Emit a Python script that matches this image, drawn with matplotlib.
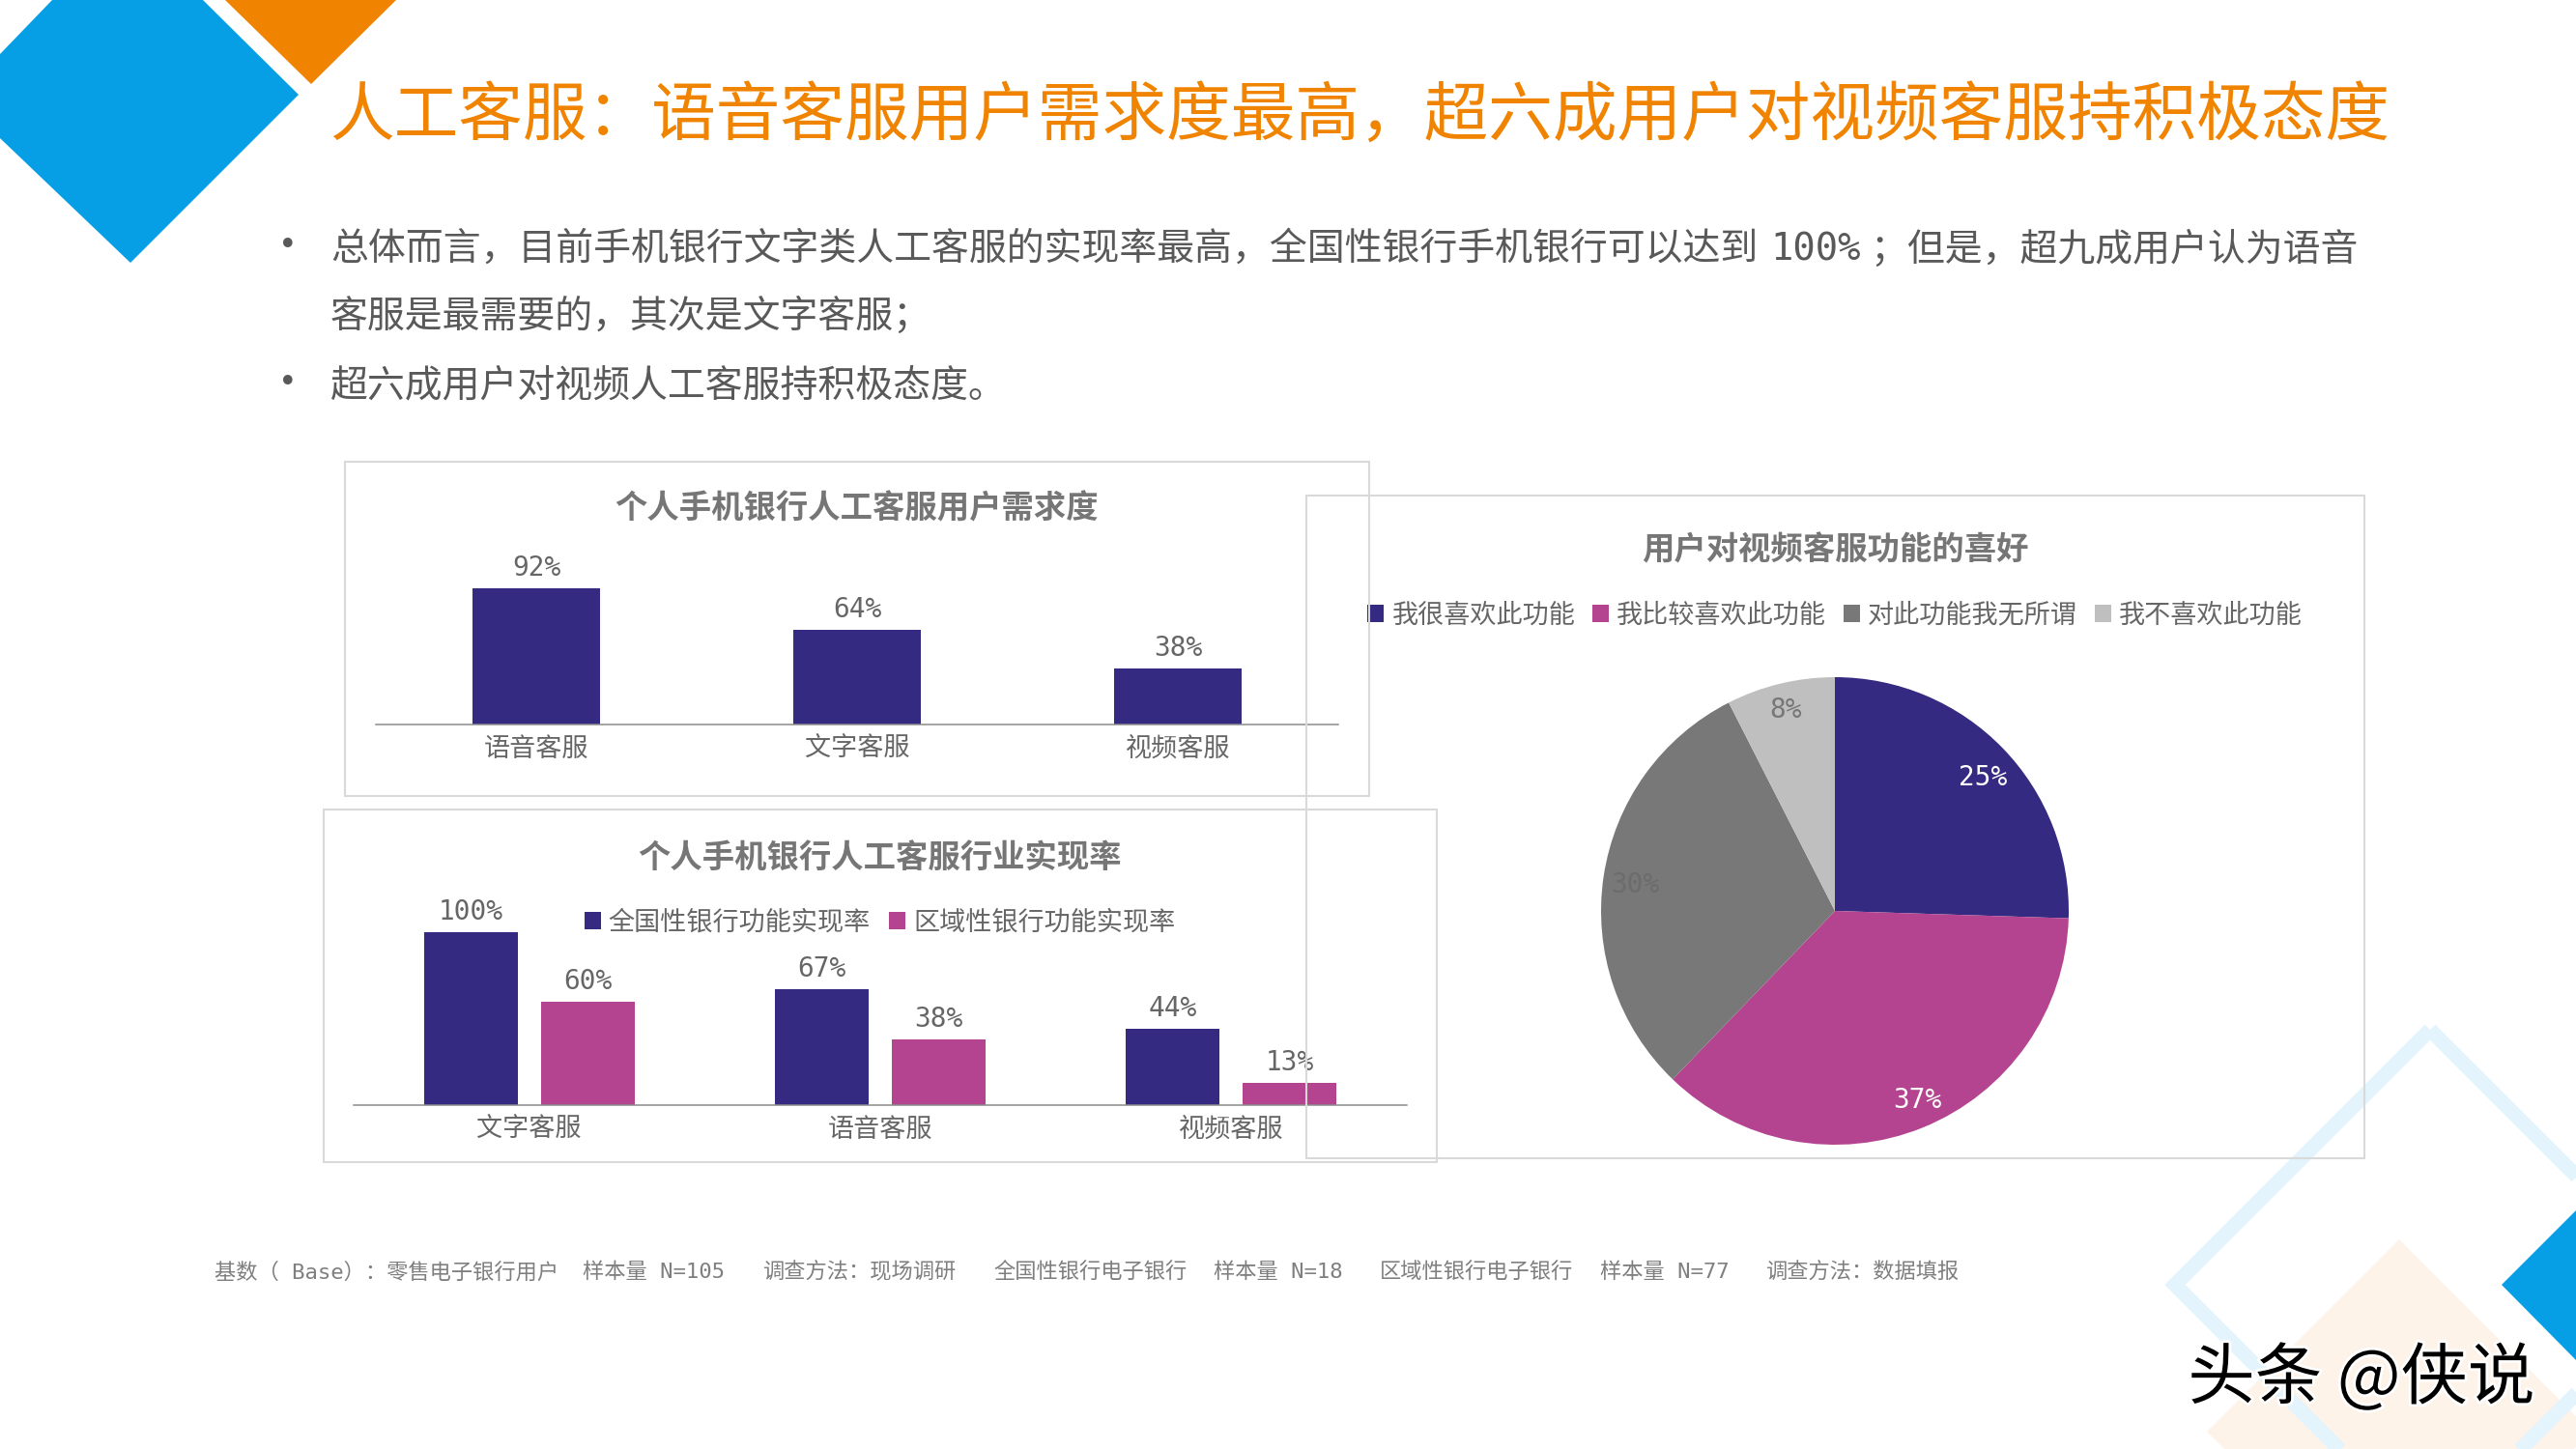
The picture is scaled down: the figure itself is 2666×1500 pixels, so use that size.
import matplotlib
matplotlib.use('Agg')
import matplotlib.pyplot as plt
import matplotlib.patheffects as pe
from matplotlib.patches import Polygon, Rectangle

# Configuration constants
WIDTH, HEIGHT = 2666, 1500
CJK = 'Noto Sans CJK SC'
MIXED = ['DejaVu Sans Mono', CJK]
NAVY = '#352A82'
MAGENTA = '#B4448F'
GREY = '#787878'
LIGHT_GREY = '#BFBFBF'
TEXT = '#666666'

# Chart data
DEMAND_CATEGORIES = ['语音客服', '文字客服', '视频客服']
DEMAND_VALUES = [92, 64, 38]

RATE_CATEGORIES = ['文字客服', '语音客服', '视频客服']
RATE_NATIONAL = [100, 67, 44]
RATE_REGIONAL = [60, 38, 13]
RATE_SERIES = ['全国性银行功能实现率', '区域性银行功能实现率']

# Slice sizes, printed labels kept separately
PIE_VALUES = [25.5, 36.7, 30.3, 7.5]
PIE_LABELS = ['25%', '37%', '30%', '8%']
PIE_SERIES = ['我很喜欢此功能', '我比较喜欢此功能', '对此功能我无所谓', '我不喜欢此功能']

TITLE = '人工客服：语音客服用户需求度最高，超六成用户对视频客服持积极态度'
BODY_FIRST = ['总体而言，目前手机银行文字类人工客服的实现率最高，全国性银行手机银行可以达到', '100%',
              '；但是，超九成用户认为语音']
BODY_SECOND = '客服是最需要的，其次是文字客服；'
BODY_THIRD = '超六成用户对视频人工客服持积极态度。'
FOOTNOTES = ['基数（ Base）：零售电子银行用户', '样本量 N=105', '调查方法：现场调研',
             '全国性银行电子银行', '样本量 N=18', '区域性银行电子银行',
             '样本量 N=77', '调查方法：数据填报']


def px_axes(fig, left, top, right, bottom, **kwargs):
    """Axes placed by pixel box, y counted from the top of the image"""
    return fig.add_axes([left / WIDTH, 1 - bottom / HEIGHT,
                         (right - left) / WIDTH, (bottom - top) / HEIGHT], **kwargs)


def pixel_layer(fig, zorder):
    ax = px_axes(fig, 0, 0, WIDTH, HEIGHT, zorder=zorder)
    ax.set_xlim(0, WIDTH)
    ax.set_ylim(HEIGHT, 0)
    ax.axis('off')
    return ax


def style_bar_axes(ax, categories):
    ax.set_xlim(-0.5, 2.5)
    ax.set_ylim(0, 100)
    ax.patch.set_alpha(0)
    for side in ['top', 'left', 'right']:
        ax.spines[side].set_visible(False)
    ax.spines['bottom'].set_color('#8C8C8C')
    ax.spines['bottom'].set_linewidth(1.1)
    ax.set_yticks([])
    ax.set_xticks(range(len(categories)), categories, family=CJK, fontsize=19.5, color=TEXT)
    ax.tick_params(axis='x', length=0, pad=8.5)


def add_value_labels(ax, bars):
    ax.bar_label(bars, fmt='%g%%', padding=5, family=MIXED, fontsize=20, color=TEXT)


def draw_background(ax):
    ax.add_patch(Polygon([(2483, 1283), (2682, 1482), (2483, 1681), (2284, 1482)], color='#FDF3E8', lw=0))
    ax.add_patch(Polygon([(2515, 1066), (2779, 1330), (2515, 1594), (2251, 1330)], closed=True,
                         fill=False, ec='#E3F4FC', lw=11, joinstyle='miter'))
    ax.add_patch(Polygon([(0, 56), (54, 0), (210, 0), (309, 98), (135, 272), (0, 143)], color='#069FE6', lw=0))
    ax.add_patch(Polygon([(233, 0), (410, 0), (322, 87)], color='#F08300', lw=0))
    ax.add_patch(Polygon([(2589, 1330), (2666, 1253), (2666, 1408)], color='#069FE6', lw=0))


def draw_text(ax):
    ax.text(341, 121, TITLE, family=CJK, fontsize=48, color='#F08300', va='center')

    # First body line is split so the figure keeps its narrow spacing
    for x, part in zip([342, 1832, 1935], BODY_FIRST):
        ax.text(x, 258, part, family=MIXED, fontsize=28, color='#595959', va='center')
    ax.text(342, 328, BODY_SECOND, family=CJK, fontsize=28, color='#595959', va='center')
    ax.text(342, 399, BODY_THIRD, family=CJK, fontsize=28, color='#595959', va='center')
    for y in [255, 396]:
        ax.text(298, y, '•', family='DejaVu Sans', fontsize=24, color='#595959', va='center', ha='center')

    for x, note in zip([222, 603, 789, 1028, 1256, 1428, 1656, 1827], FOOTNOTES):
        ax.text(x, 1317, note, family=MIXED, fontsize=16, color='#7F7F7F', va='center')

    ax.text(2444, 1428, '头条 @侠说', family=CJK, fontsize=50, color='black', ha='center', va='center',
            path_effects=[pe.withStroke(linewidth=4, foreground='white')])

    for x, y, title in [(887, 527, '个人手机银行人工客服用户需求度'),
                        (911, 888, '个人手机银行人工客服行业实现率'),
                        (1899, 570, '用户对视频客服功能的喜好')]:
        ax.text(x, y, title, family=CJK, fontsize=24, fontweight='bold', color='#767676',
                ha='center', va='center')


def draw_boxes(ax):
    # Frames are unfilled and sit over the bars where they cross
    for left, top, right, bottom in [(357, 478, 1417, 824), (335, 838, 1487, 1203), (1352, 513, 2447, 1199)]:
        ax.add_patch(Rectangle((left, top), right - left, bottom - top, fill=False, ec='#D9D9D9', lw=1.5))


def main():
    fig = plt.figure(figsize=(WIDTH / 100, HEIGHT / 100), dpi=100, facecolor='white')

    bg = pixel_layer(fig, 0)
    draw_background(bg)
    draw_text(bg)

    # Demand bars, 1.533 px per percent
    ax1 = px_axes(fig, 389, 597, 1385, 750, zorder=1)
    bars = ax1.bar(range(3), DEMAND_VALUES, width=0.4, color=NAVY)
    style_bar_axes(ax1, DEMAND_CATEGORIES)
    add_value_labels(ax1, bars)

    # Availability bars, 1.79 px per percent
    ax2 = px_axes(fig, 366, 965, 1456, 1144, zorder=1)
    offset = 0.1666
    national = ax2.bar([i - offset for i in range(3)], RATE_NATIONAL, width=0.267, color=NAVY)
    regional = ax2.bar([i + offset for i in range(3)], RATE_REGIONAL, width=0.267, color=MAGENTA)
    style_bar_axes(ax2, RATE_CATEGORIES)
    add_value_labels(ax2, national)
    add_value_labels(ax2, regional)
    ax2.legend([national, regional], RATE_SERIES, ncols=2, loc='center', frameon=False,
               bbox_to_anchor=(910.5 / WIDTH, 1 - 955 / HEIGHT), bbox_transform=fig.transFigure,
               prop={'family': CJK, 'size': 19.5}, labelcolor=TEXT, borderpad=0,
               handlelength=0.63, handleheight=0.6, handletextpad=0.3, columnspacing=0.7)

    # Pie, radius 242 px around (1899, 943)
    ax3 = px_axes(fig, 1657, 701, 2141, 1185, zorder=1)
    wedges, _, autotexts = ax3.pie(PIE_VALUES, colors=[NAVY, MAGENTA, GREY, LIGHT_GREY], startangle=90,
                                   counterclock=False, autopct='%.0f', radius=1)
    ax3.set_xlim(-1, 1)
    ax3.set_ylim(-1, 1)
    label_spots = [(0.632, 0.571), (0.351, -0.81), (-0.855, 0.112), (-0.211, 0.86)]
    for autotext, label, color, spot in zip(autotexts, PIE_LABELS, ['white', 'white', '#6C6C6C', '#777777'], label_spots):
        autotext.set_text(label)
        autotext.set_position(spot)
        autotext.set(family=MIXED, fontsize=20, color=color)
    ax3.legend(wedges, PIE_SERIES, ncols=4, loc='center', frameon=False,
               bbox_to_anchor=(1899 / WIDTH, 1 - 637 / HEIGHT), bbox_transform=fig.transFigure,
               prop={'family': CJK, 'size': 19.5}, labelcolor=TEXT, borderpad=0,
               handlelength=0.63, handleheight=0.6, handletextpad=0.3, columnspacing=0.65)

    top = pixel_layer(fig, 5)
    draw_boxes(top)

    fig.savefig('out.png', dpi=100)


if __name__ == "__main__":
    main()
